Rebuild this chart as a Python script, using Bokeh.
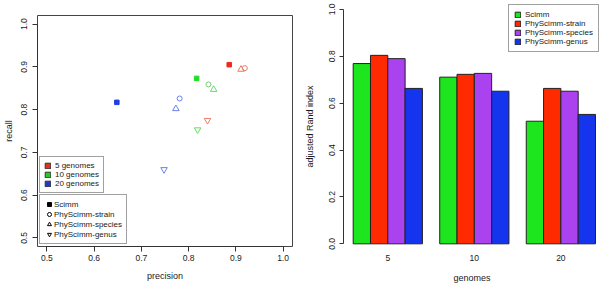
from bokeh.plotting import figure
from bokeh.layouts import row
from bokeh.models import (ColumnDataSource, FixedTicker, NumeralTickFormatter,
                          Legend, LegendItem, Range1d)
from bokeh.embed import file_html
from bokeh.resources import INLINE

# ---------------- data ----------------
genome_labels = ["5 genomes", "10 genomes", "20 genomes"]
genome_ticks = ["5", "10", "20"]
methods = ["Scimm", "PhyScimm-strain", "PhyScimm-species", "PhyScimm-genus"]

# left panel: precision / recall per method, for 5, 10, 20 genomes
scimm_precision = [0.886, 0.817, 0.648]
scimm_recall = [0.905, 0.873, 0.817]
strain_precision = [0.919, 0.842, 0.781]
strain_recall = [0.897, 0.859, 0.826]
species_precision = [0.911, 0.853, 0.773]
species_recall = [0.894, 0.847, 0.802]
genus_precision = [0.840, 0.819, 0.748]
genus_recall = [0.775, 0.753, 0.660]

pr_ticks = [0.5, 0.6, 0.7, 0.8, 0.9, 1.0]

# right panel: adjusted Rand index per method, for 5, 10, 20 genomes
ari_scimm = [0.769, 0.711, 0.523]
ari_strain = [0.804, 0.723, 0.663]
ari_species = [0.790, 0.727, 0.651]
ari_genus = [0.663, 0.651, 0.552]
ari_ticks = [0.0, 0.2, 0.4, 0.6, 0.8, 1.0]

# ---------------- styles ----------------
FONT = "Liberation Sans"
TXT = "#1a1a1a"
NAN = float("nan")
solid_cols = ["#f02a1e", "#22dd22", "#2040e0"]
open_cols = ["#ee7a68", "#6ad86a", "#6a84e6"]
legend_fill = ["#dd3322", "#22cc22", "#2238cc"]
bar_cols = ["#1ee61e", "#ff2a00", "#aa42f0", "#1434ee"]


def style_axes(p):
    for ax in (p.xaxis[0], p.yaxis[0]):
        ax.axis_label_text_font = FONT
        ax.axis_label_text_font_size = "9px"
        ax.axis_label_text_font_style = "normal"
        ax.axis_label_text_color = TXT
        ax.axis_label_text_line_height = 1.0
        ax.major_label_text_font = FONT
        ax.major_label_text_font_size = "8.5px"
        ax.major_label_text_color = TXT
        ax.major_label_text_line_height = 1.0
        ax.major_tick_out = 4
        ax.major_tick_in = 0
        ax.minor_tick_line_color = None
        ax.major_tick_line_color = "#333333"
        ax.axis_line_color = "#333333"
    p.xgrid.visible = False
    p.ygrid.visible = False
    p.background_fill_color = "white"
    p.border_fill_color = "white"


def make_legend(items, loc, glyph, pad, label_h=9, standoff=4):
    return Legend(items=items, location=loc, orientation="vertical",
                  glyph_width=glyph, glyph_height=glyph, label_height=label_h,
                  spacing=0, padding=pad, margin=0, label_standoff=standoff,
                  label_text_font=FONT, label_text_font_size="8px",
                  label_text_color=TXT, border_line_color="#444444",
                  border_line_width=1, background_fill_color="white",
                  background_fill_alpha=1.0)


# ---------------- left panel ----------------
p1 = figure(width=300, height=285, output_backend="svg", toolbar_location=None,
            x_range=Range1d(0.48, 1.02), y_range=Range1d(0.48, 1.02),
            min_border_left=37, min_border_right=8, min_border_top=15,
            min_border_bottom=39, x_axis_label="precision", y_axis_label="recall")
p1.frame_align = False
style_axes(p1)
p1.outline_line_color = "#444444"
p1.outline_line_width = 1
for ax in (p1.xaxis[0], p1.yaxis[0]):
    ax.ticker = FixedTicker(ticks=pr_ticks)
    ax.formatter = NumeralTickFormatter(format="0.0")
    ax.bounds = (pr_ticks[0], pr_ticks[-1])
    ax.major_tick_out = 5
p1.xaxis.major_label_standoff = 3
p1.xaxis.axis_label_standoff = 7
p1.yaxis.major_label_orientation = "vertical"
p1.yaxis.major_label_standoff = 5
p1.yaxis.axis_label_standoff = 5

src_scimm = ColumnDataSource(dict(x=scimm_precision, y=scimm_recall, c=solid_cols))
src_strain = ColumnDataSource(dict(x=strain_precision, y=strain_recall, c=open_cols))
src_species = ColumnDataSource(dict(x=species_precision, y=species_recall, c=open_cols))
src_genus = ColumnDataSource(dict(x=genus_precision, y=genus_recall, c=open_cols))

p1.scatter("x", "y", source=src_scimm, marker="square", size=4.5,
           fill_color="c", line_color="c")
p1.scatter("x", "y", source=src_strain, marker="circle", size=5,
           fill_color=None, line_color="c", line_width=1)
p1.scatter("x", "y", source=src_species, marker="triangle", size=6.5,
           fill_color=None, line_color="c", line_width=1)
p1.scatter("x", "y", source=src_genus, marker="inverted_triangle", size=6.5,
           fill_color=None, line_color="c", line_width=1)

# legend 1: genome counts (filled boxes); renderers hold no visible point
leg1_items = []
for lab, col in zip(genome_labels, legend_fill):
    r = p1.quad(left=[NAN], right=[NAN], top=[NAN], bottom=[NAN],
                fill_color=col, line_color="#333333", line_width=1)
    leg1_items.append(LegendItem(label=lab, renderers=[r], index=0))

# legend 2: methods (black symbols)
shape_specs = [("square", "black"), ("circle", None), ("triangle", None),
               ("inverted_triangle", None)]
leg2_items = []
for lab, (mk, fc) in zip(methods, shape_specs):
    r = p1.scatter(x=[NAN], y=[NAN], marker=mk, fill_color=fc,
                   line_color="black", line_width=1)
    leg2_items.append(LegendItem(label=lab, renderers=[r], index=0))

p1.add_layout(make_legend(leg1_items, (2, 53), 7, 4))
p1.add_layout(make_legend(leg2_items, (2, 2), 10, 4, label_h=10, standoff=0))

# ---------------- right panel ----------------
p2 = figure(width=300, height=285, output_backend="svg", toolbar_location=None,
            x_range=Range1d(0.44, 15.29), y_range=Range1d(-0.037, 1.038),
            min_border_left=43, min_border_right=0, min_border_top=0,
            min_border_bottom=32, x_axis_label="genomes",
            y_axis_label="adjusted Rand index")
p2.frame_align = False
style_axes(p2)
p2.outline_line_color = None

ari_series = [ari_scimm, ari_strain, ari_species, ari_genus]
n_methods = len(methods)
bar_renderers = []
for m, (vals, col) in enumerate(zip(ari_series, bar_cols)):
    xs = [1 + g * (n_methods + 1) + m + 0.5 for g in range(len(genome_ticks))]
    r = p2.vbar(x=xs, top=vals, bottom=0, width=1, fill_color=col,
                line_color="#222222", line_width=1)
    bar_renderers.append(r)

centers = [1 + g * (n_methods + 1) + n_methods / 2 for g in range(len(genome_ticks))]
p2.xaxis.ticker = FixedTicker(ticks=centers)
p2.xaxis.major_label_overrides = {c: t for c, t in zip(centers, genome_ticks)}
p2.xaxis.major_tick_line_color = None
p2.xaxis.axis_line_color = None
p2.xaxis.major_tick_out = 0
p2.xaxis.major_label_standoff = 2
p2.xaxis.axis_label_standoff = 9

p2.yaxis.ticker = FixedTicker(ticks=ari_ticks)
p2.yaxis.formatter = NumeralTickFormatter(format="0.0")
p2.yaxis.bounds = (ari_ticks[0], ari_ticks[-1])
p2.yaxis.major_label_orientation = "vertical"
p2.yaxis.major_label_standoff = 4
p2.yaxis.axis_label_standoff = 12

leg3 = make_legend([LegendItem(label=lab, renderers=[r])
                    for lab, r in zip(methods, bar_renderers)], (165, 200), 7, 5)
p2.add_layout(leg3)

layout = row(p1, p2)
open("out.html", "w").write(file_html(layout, INLINE))
